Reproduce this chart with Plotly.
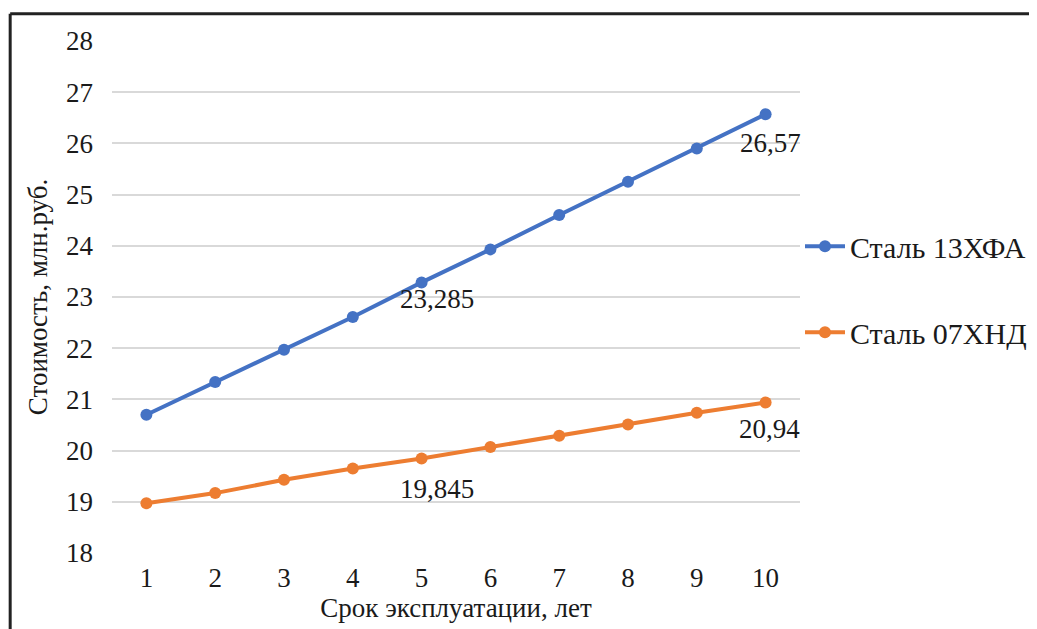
import plotly.graph_objects as go

years = [1, 2, 3, 4, 5, 6, 7, 8, 9, 10]
steel_13hfa = [20.70, 21.34, 21.97, 22.61, 23.285, 23.93, 24.60, 25.25, 25.90, 26.57]
steel_07hnd = [18.97, 19.17, 19.43, 19.65, 19.845, 20.07, 20.29, 20.51, 20.74, 20.94]
labeled_idx = [4, 9]
y_ticks = [18, 19, 20, 21, 22, 23, 24, 25, 26, 27, 28]

FONT = "Liberation Serif"
TXT = "#1a1a1a"

def fmt(v):
    return ("%g" % v).replace(".", ",")

fig = go.Figure()
fig.add_trace(go.Scatter(
    x=years, y=steel_13hfa, mode="lines+markers", name="Сталь 13ХФА",
    legendgroup="a",
    line=dict(color="#4472C4", width=4),
    marker=dict(color="#4472C4", size=12),
    cliponaxis=False,
))
fig.add_trace(go.Scatter(
    x=years, y=steel_07hnd, mode="lines+markers", name="Сталь 07ХНД",
    legendgroup="b",
    line=dict(color="#ED7D31", width=4),
    marker=dict(color="#ED7D31", size=12),
    cliponaxis=False,
))

# label offsets (pixels) for the labelled points: (series, dx, dy)
label_offsets = {0: [(15, -17), (5, -29)], 1: [(15, -30), (4, -27)]}
annotations = []
for s, vals in enumerate([steel_13hfa, steel_07hnd]):
    for k, i in enumerate(labeled_idx):
        dx, dy = label_offsets[s][k]
        annotations.append(dict(
            x=years[i], y=vals[i], xref="x", yref="y", text=fmt(vals[i]),
            showarrow=False, xanchor="center", yanchor="middle",
            xshift=dx, yshift=dy,
            font=dict(family=FONT, size=27, color=TXT)))

fig.update_layout(
    width=1029, height=621,
    margin=dict(l=104, r=237, t=33, b=76, autoexpand=False),
    paper_bgcolor="white", plot_bgcolor="white",
    font=dict(family=FONT, size=27, color=TXT),
    showlegend=True,
    legend=dict(x=1.0, xanchor="left", y=0.515, yanchor="middle",
                font=dict(family=FONT, size=30, color=TXT),
                traceorder="grouped", tracegroupgap=44,
                itemwidth=40,
                bgcolor="rgba(0,0,0,0)"),
    xaxis=dict(range=[0.5, 10.5], tickmode="array", tickvals=years,
               ticktext=[str(y) for y in years],
               showgrid=False, zeroline=False, showline=False,
               ticks="", tickfont=dict(size=27), ticklabelstandoff=6,
               title=dict(text="Срок эксплуатации, лет", font=dict(size=27), standoff=0)),
    yaxis=dict(range=[18, 28], tickmode="array", tickvals=y_ticks,
               showgrid=True, gridcolor="#d9d9d9", gridwidth=2,
               zeroline=False, showline=False, ticks="",
               tickfont=dict(size=27), ticklabelstandoff=18,
               title=dict(text="Стоимость, млн.руб.", font=dict(size=27), standoff=10)),
    annotations=annotations,
    shapes=[
        dict(type="line", xref="paper", yref="paper", x0=-0.148, x1=-0.148, y0=-0.2, y1=1.053,
             line=dict(color="#222222", width=3)),
        dict(type="line", xref="paper", yref="paper", x0=-0.148, x1=1.4, y0=1.053, y1=1.053,
             line=dict(color="#222222", width=3)),
    ],
)

fig.write_html("out.html")
